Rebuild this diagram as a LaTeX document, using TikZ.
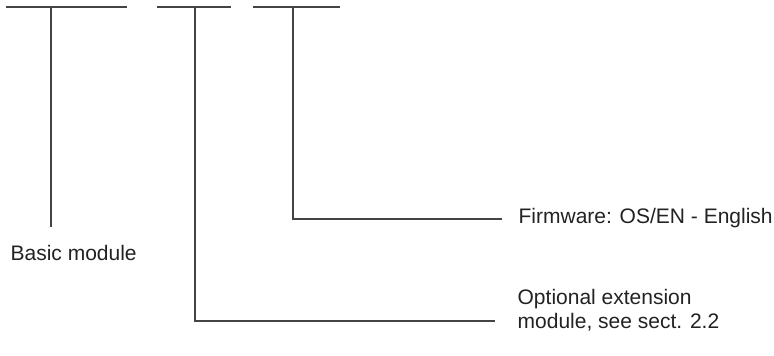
\documentclass[tikz,border=0pt]{standalone}
\usepackage{fontspec}
\setmainfont{Liberation Sans}
\definecolor{linegray}{HTML}{444444}
\definecolor{textgray}{HTML}{222222}
\begin{document}
\begin{tikzpicture}[x=1pt,y=-1pt,line width=1.3pt,
    wire/.style={draw=linegray},
    lbl/.style={inner sep=0pt,text=textgray,align=left,
      font=\fontsize{21}{23.3}\selectfont}]
      \useasboundingbox (0,0) rectangle (774,356);
      \coordinate (1) at (51,7);
      \coordinate (2) at (195,7);
      \coordinate (3) at (293,7);
      \coordinate (1e) at (51,227);
      \coordinate (2e) at (495,321);
      \coordinate (3e) at (502,219);

      \draw[wire] ([xshift=-45pt]1) -- ([xshift=76pt]1);
      \draw[wire] ([xshift=-38pt]2) -- ([xshift=36pt]2);
      \draw[wire] ([xshift=-40pt]3) -- ([xshift=47pt]3);

      \node[lbl,anchor=base west] (b) at (10,260) {Basic module};
      \node[lbl,anchor=base west] (f) at (518,223) {Firmware: OS/EN - English};
      \node[lbl,anchor=base west] (o) at (517,328) {Optional extension\\module, see sect. 2.2};

      \draw[wire] (1) -- (1e);
      \draw[wire] (2) |- (2e);
      \draw[wire] (3) |- (3e);
    \end{tikzpicture}
\end{document}
